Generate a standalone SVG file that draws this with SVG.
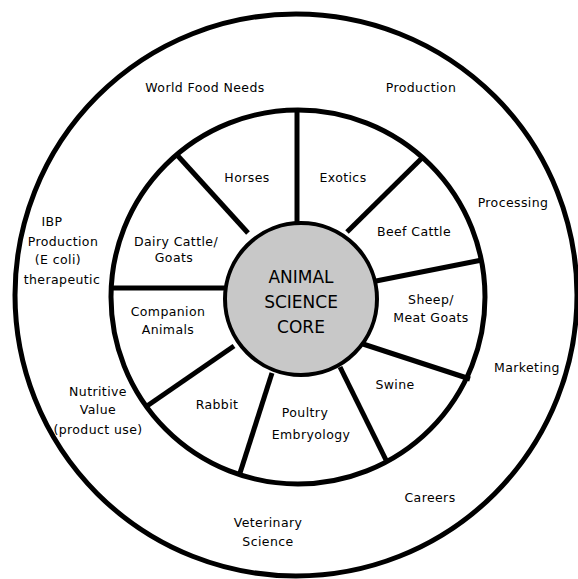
<svg xmlns="http://www.w3.org/2000/svg" width="578" height="579" viewBox="0 0 578 579">
<style>
.ring{fill:none;stroke:#000;stroke-width:5}
.spoke{stroke:#000;stroke-width:5;stroke-linecap:butt}
.t{font-family:"DejaVu Sans","Liberation Sans",sans-serif;font-size:12.5px;fill:#000;text-anchor:middle;letter-spacing:0.4px}
.core{font-family:"DejaVu Sans","Liberation Sans",sans-serif;font-size:17px;fill:#000;text-anchor:middle}
</style>
<rect width="578" height="579" fill="#fff"/>
<g id="outer-ring"><circle class="ring" cx="296" cy="295" r="281"/></g>
<g id="inner-ring"><circle class="ring" cx="298" cy="297" r="187" stroke-width="5.5"/></g>
<g id="connectors">
<line class="spoke" x1="297" y1="110" x2="297" y2="224"/>
<line class="spoke" x1="178" y1="156" x2="248" y2="233"/>
<line class="spoke" x1="423" y1="157" x2="347" y2="232"/>
<line class="spoke" x1="482" y1="260" x2="376" y2="281"/>
<line class="spoke" x1="470" y1="379" x2="363" y2="344"/>
<line class="spoke" x1="386" y1="460" x2="340" y2="367"/>
<line class="spoke" x1="240" y1="473" x2="272" y2="373"/>
<line class="spoke" x1="147" y1="406" x2="234" y2="346"/>
<line class="spoke" x1="112" y1="288" x2="226" y2="288"/>
</g>
<g id="core"><circle cx="301" cy="299" r="76" fill="#c8c8c8" stroke="#000" stroke-width="4"/>
<text class="core" x="301" y="283">ANIMAL</text>
<text class="core" x="301" y="308">SCIENCE</text>
<text class="core" x="301" y="333">CORE</text></g>
<g id="horses"><text class="t" x="247" y="182">Horses</text></g>
<g id="exotics"><text class="t" x="343" y="182">Exotics</text></g>
<g id="beef-cattle"><text class="t" x="414" y="236">Beef Cattle</text></g>
<g id="sheep"><text class="t" x="431" y="304">Sheep/</text><text class="t" x="431" y="322">Meat Goats</text></g>
<g id="swine"><text class="t" x="395" y="389">Swine</text></g>
<g id="poultry"><text class="t" x="305" y="417">Poultry</text><text class="t" x="311" y="439">Embryology</text></g>
<g id="rabbit"><text class="t" x="217" y="409">Rabbit</text></g>
<g id="companion"><text class="t" x="168" y="316">Companion</text><text class="t" x="168" y="334">Animals</text></g>
<g id="dairy"><text class="t" x="176" y="246">Dairy Cattle/</text><text class="t" x="174" y="262">Goats</text></g>
<g id="world-food"><text class="t" x="205" y="92">World Food Needs</text></g>
<g id="production"><text class="t" x="421" y="92">Production</text></g>
<g id="processing"><text class="t" x="513" y="207">Processing</text></g>
<g id="marketing"><text class="t" x="527" y="372">Marketing</text></g>
<g id="careers"><text class="t" x="430" y="502">Careers</text></g>
<g id="veterinary"><text class="t" x="268" y="527">Veterinary</text><text class="t" x="268" y="546">Science</text></g>
<g id="nutritive"><text class="t" x="98" y="396">Nutritive</text><text class="t" x="98" y="414">Value</text><text class="t" x="98" y="434">(product use)</text></g>
<g id="ibp"><text class="t" x="52" y="226">IBP</text><text class="t" x="63" y="246">Production</text><text class="t" x="58" y="264">(E coli)</text><text class="t" x="62" y="284">therapeutic</text></g>
</svg>
